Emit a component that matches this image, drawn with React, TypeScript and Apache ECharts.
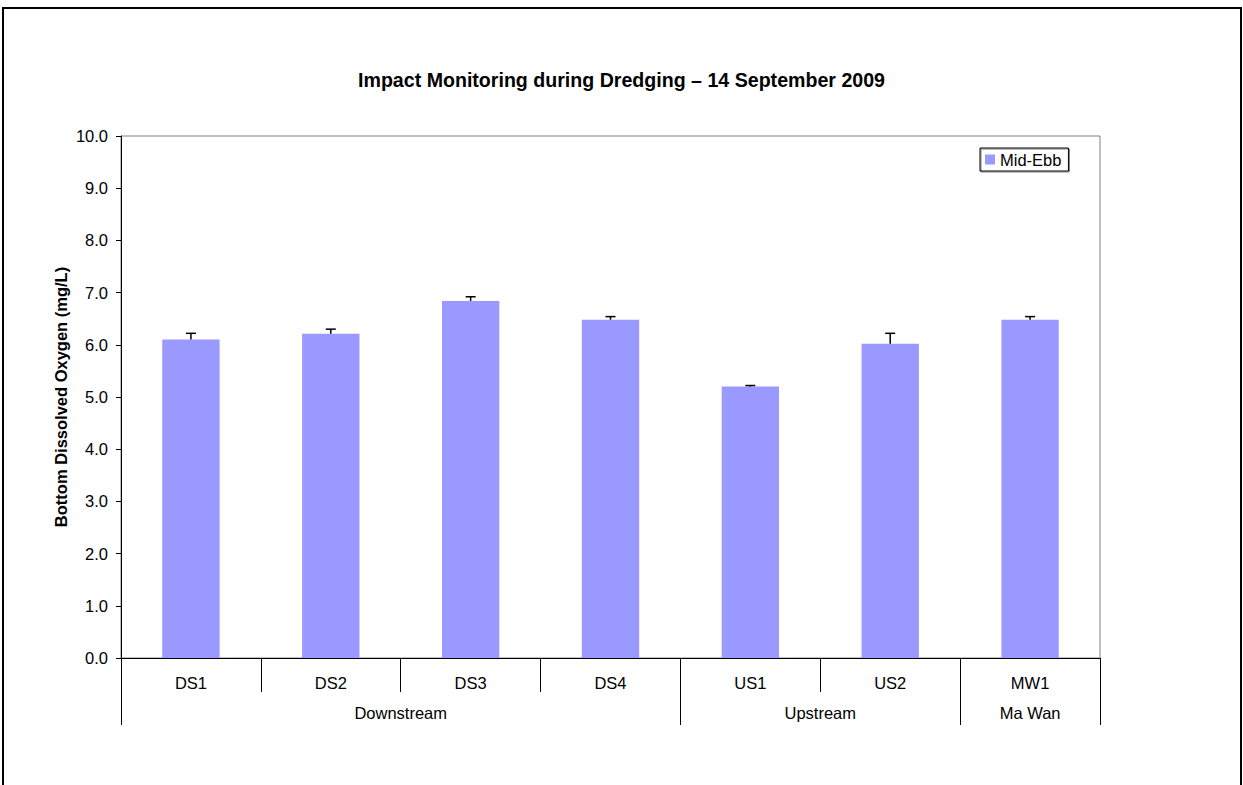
import React, { useEffect, useRef } from "react";
import * as echarts from "echarts";

const categories = ["DS1", "DS2", "DS3", "DS4", "US1", "US2", "MW1"];
const midEbb = [6.1, 6.21, 6.84, 6.48, 5.2, 6.02, 6.48];
const errPlus = [0.12, 0.09, 0.08, 0.06, 0.02, 0.2, 0.06];
const groups = ["Downstream", "Upstream", "Ma Wan"];
const groupCenters = [2, 5, 6.5];
const groupBounds = [0, 4, 6, 7];
const yTicks = [0, 10, 1];

const FONT = "Liberation Sans, Arial, sans-serif";

export default function App() {
  const ref = useRef<HTMLDivElement>(null);
  useEffect(() => {
    if (!ref.current) return;
    const chart = echarts.init(ref.current, null, { renderer: "svg" });
    chart.setOption({
      animation: false,
      backgroundColor: "#fff",
      textStyle: { fontFamily: FONT },
      title: {
        text: "Impact Monitoring during Dredging – 14 September 2009",
        left: "center",
        top: 65,
        textStyle: { fontSize: 19.6, fontWeight: "bold", color: "#000", fontFamily: FONT },
      },
      legend: {
        left: 980,
        top: 148,
        data: ["Mid-Ebb"],
        itemWidth: 10,
        itemHeight: 10,
        itemGap: 0,
        padding: [3, 7, 3, 5],
        borderColor: "#000",
        borderWidth: 1,
        shadowColor: "rgba(0,0,0,0.5)",
        shadowOffsetX: 1,
        shadowOffsetY: 1,
        textStyle: { fontSize: 16.5, color: "#000", fontFamily: FONT, padding: [0, 0, 0, 0] },
        icon: "rect",
      },
      grid: {
        left: 121,
        top: 136,
        right: 143,
        bottom: 127,
        show: true,
        borderColor: "#808080",
        borderWidth: 1,
      },
      xAxis: [
        {
          type: "category",
          data: categories,
          position: "bottom",
          axisLine: { lineStyle: { color: "#000", width: 1 } },
          axisTick: { show: true, interval: 0, length: 34, lineStyle: { color: "#000" } },
          axisLabel: { interval: 0, margin: 16, fontSize: 16.5, color: "#000", fontFamily: FONT },
        },
        {
          type: "value",
          min: 0,
          max: 7,
          position: "bottom",
          axisLine: { show: false },
          splitLine: { show: false },
          axisTick: {
            show: true,
            length: 67,
            customValues: groupBounds,
            lineStyle: { color: "#000" },
          },
          axisLabel: {
            customValues: groupCenters,
            margin: 46,
            fontSize: 16.5,
            color: "#000",
            fontFamily: FONT,
            formatter: (v: number) => {
              const i = groupCenters.indexOf(v);
              return i >= 0 ? groups[i] : "";
            },
          },
        },
      ],
      yAxis: {
        type: "value",
        min: yTicks[0],
        max: yTicks[1],
        interval: yTicks[2],
        name: "Bottom Dissolved Oxygen (mg/L)",
        nameLocation: "middle",
        nameGap: 52,
        nameMoveOverlap: false,
        nameRotate: 90,
        nameTextStyle: { fontSize: 16.5, fontWeight: "bold", color: "#000", fontFamily: FONT },
        axisLine: { show: true, lineStyle: { color: "#000" } },
        axisTick: { show: true, length: 5, lineStyle: { color: "#000" } },
        splitLine: { show: false },
        axisLabel: {
          fontSize: 16.5,
          color: "#000",
          margin: 13,
          fontFamily: FONT,
          formatter: (v: number) => v.toFixed(1),
        },
      },
      series: [
        {
          name: "Mid-Ebb",
          type: "bar",
          data: midEbb,
          barWidth: "41%",
          itemStyle: { color: "#9999FF" },
          z: 2,
        },
        {
          name: "err",
          type: "custom",
          data: midEbb.map((v, i) => [i, v, errPlus[i]]),
          encode: { x: 0, y: 1 },
          z: 3,
          renderItem: (params: any, api: any) => {
            const x = api.value(0);
            const v = api.value(1);
            const e = api.value(2);
            const p0 = api.coord([x, v]);
            const p1 = api.coord([x, v + e]);
            const style = { stroke: "#000", lineWidth: 1.5 };
            return {
              type: "group",
              children: [
                { type: "line", shape: { x1: p0[0], y1: p0[1], x2: p1[0], y2: p1[1] }, style },
                { type: "line", shape: { x1: p1[0] - 5, y1: p1[1], x2: p1[0] + 5, y2: p1[1] }, style },
              ],
            };
          },
        },
      ],
      graphic: [
        {
          type: "rect",
          shape: { x: 3, y: 8, width: 1238, height: 800 },
          style: { fill: "none", stroke: "#000", lineWidth: 2 },
          silent: true,
        },
      ],
    });
    return () => chart.dispose();
  }, []);
  return (
    <div
      ref={ref}
      style={{ position: "absolute", left: 0, top: 0, width: 1243, height: 785 }}
    />
  );
}
